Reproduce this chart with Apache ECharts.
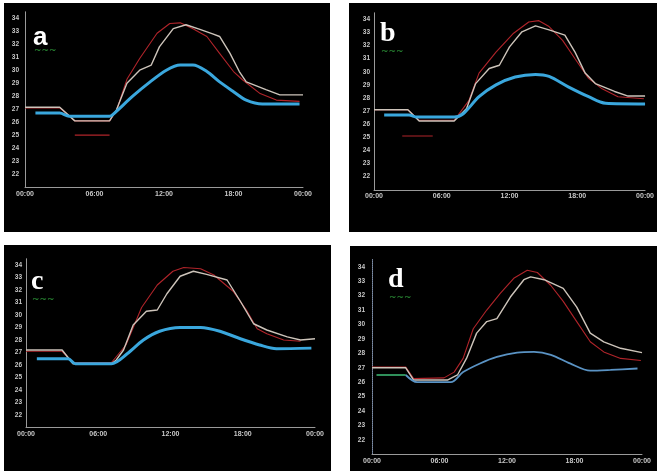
<!DOCTYPE html>
<html><head><meta charset="utf-8">
<script src="https://cdn.jsdelivr.net/npm/echarts@6/dist/echarts.min.js"></script>
<style>html,body{margin:0;padding:0;background:#fff}#c{width:657px;height:471px}</style>
</head><body><div id="c"></div>
<script>
// Tick labels
var xTickLabels = ['00:00', '06:00', '12:00', '18:00', '00:00'];
var yTickValues = [22, 23, 24, 25, 26, 27, 28, 29, 30, 31, 32, 33, 34];
var panelLetters = ['a', 'b', 'c', 'd'];

// Panel a  [hour, temperature]; '-' marks a break in the line
var aRed = [[0,27.1],[3,27.1],[4.3,26.1],[7.3,26.1],[7.9,26.9],[8.8,29.3],[9.9,30.9],[11.4,32.85],[12.5,33.6],[13.4,33.65],[14.5,33.2],[15.7,32.6],[16.8,31.3],[18,29.9],[18.8,29.25],[20.3,28.2],[21.7,27.7],[23.7,27.6],[23.7,'-'],[4.3,25.0],[7.3,25.0]];
var aWhite = [[0,27.15],[3,27.15],[4.3,26.1],[7.3,26.1],[7.9,26.95],[8.8,29.0],[9.9,30.0],[10.9,30.4],[11.6,31.8],[12.8,33.2],[13.9,33.5],[15.1,33.15],[16.2,32.8],[16.8,32.6],[17.7,31.3],[18.5,29.9],[19.1,29.1],[20.8,28.5],[22,28.1],[24,28.1]];
var aBlue = [[0.9,26.7],[3,26.7],[3.8,26.45],[7.3,26.45],[7.6,26.6],[9.3,28.0],[10.8,29.1],[12.2,30.0],[13.4,30.4],[14.5,30.4],[15.7,29.9],[16.8,29.1],[18,28.35],[19.1,27.7],[20.5,27.4],[23.7,27.4]];

// Panel b
var bRed = [[0,27.1],[3,27.1],[4,26.3],[7.1,26.3],[8.4,27.8],[9.3,29.9],[10.8,31.5],[12.3,32.9],[13.7,33.8],[14.6,33.9],[15.5,33.45],[16.7,32.4],[17.8,31.0],[19,29.5],[20.2,28.7],[21.6,28.1],[23.9,27.95],[23.9,'-'],[2.5,25.1],[5.2,25.1]];
var bWhite = [[0,27.1],[3,27.1],[4,26.25],[7.1,26.25],[8.2,27.2],[9,29.1],[10.2,30.25],[11.1,30.5],[12,31.9],[13.1,33.05],[14.3,33.5],[15.5,33.2],[16.9,32.8],[17.8,31.5],[18.7,29.9],[19.6,29.1],[21.3,28.5],[22.5,28.15],[24,28.15]];
var bBlue = [[0.9,26.7],[3.1,26.7],[3.8,26.55],[7.1,26.55],[7.9,26.8],[9.3,28.1],[10.8,29.0],[12.5,29.6],[14.3,29.8],[15.5,29.65],[17.2,28.85],[19,28.1],[20.5,27.6],[24,27.55]];

// Panel c
var cRed = [[0,27.1],[3,27.1],[3.9,26.2],[7.1,26.2],[8.3,27.6],[9.6,30.6],[10.9,32.4],[12.2,33.5],[13.1,33.8],[14.5,33.7],[15.6,33.2],[17.2,31.9],[18.3,30.4],[19.2,28.9],[20,28.5],[21.4,28.0],[22.8,27.9]];
var cWhite = [[0,27.2],[3,27.2],[3.9,26.1],[7.1,26.1],[7.5,26.4],[8.1,27.2],[8.9,29.2],[10,30.3],[10.9,30.4],[11.7,31.7],[12.8,33.1],[13.9,33.5],[15,33.25],[16.7,32.8],[17.8,31.1],[18.9,29.3],[20,28.8],[21.7,28.25],[22.8,28.0],[24,28.1]];
var cBlue = [[0.9,26.5],[3.5,26.5],[4.1,26.1],[7.1,26.1],[8.4,26.9],[9.75,28.0],[11.1,28.7],[12.8,29.0],[14.5,29.0],[16.1,28.7],[17.8,28.1],[19.4,27.6],[20.8,27.3],[23.7,27.35]];

// Panel d
var dRed = [[0,27.05],[3,27.05],[3.7,26.25],[6.4,26.3],[7.3,26.7],[8.1,27.65],[9,29.7],[10.2,31.0],[11.4,32.15],[12.6,33.2],[13.8,33.75],[14.7,33.6],[15.9,32.7],[17,31.6],[18.2,30.2],[19.4,28.8],[20.6,28.1],[22.1,27.65],[23.9,27.5]];
var dWhite = [[0,27.0],[3,27.0],[3.7,26.15],[6.7,26.15],[7.6,26.5],[8.4,27.65],[9.3,29.4],[10.2,30.2],[11.1,30.4],[12.3,31.9],[13.5,33.1],[14.1,33.3],[15.3,33.1],[17,32.5],[18.2,31.2],[19.4,29.4],[20.6,28.8],[22.1,28.35],[24,28.05]];
var dGreen = [[0.4,26.5],[3,26.5]];
var dBlue = [[3,26.5],[4,26.0],[7,26.0],[8.1,26.7],[9.6,27.3],[11.1,27.75],[12.9,28.05],[14.4,28.1],[15.9,27.9],[17.6,27.3],[19.4,26.8],[21.2,26.85],[23.6,26.95]];

var panels = [
  {rect:[4,3,326,229], grid:{left:25,top:11.8,width:278,height:175.3}, yOff:2, dotted:false,
   red:aRed, white:aWhite, blue:aBlue, blueW:3, blueC:'#3aa7dd', letter:[33,25], serif:false},
  {rect:[349,3,308,229], grid:{left:374,top:12.8,width:274,height:177}, yOff:0, dotted:false,
   red:bRed, white:bWhite, blue:bBlue, blueW:3, blueC:'#3aa7dd', letter:[380,20], serif:true},
  {rect:[4,245,327,226], grid:{left:26,top:258.75,width:289,height:168.75}, yOff:0, dotted:false,
   red:cRed, white:cWhite, blue:cBlue, blueW:3, blueC:'#3aa7dd', letter:[31,268], serif:true},
  {rect:[350,246,307,225], grid:{left:372,top:259.5,width:270,height:194.9}, yOff:3, dotted:true,
   red:dRed, white:dWhite, blue:dBlue, blueW:1.8, blueC:'#5a93c4', letter:[388,266], serif:true}
];

var grids = [], xAxes = [], yAxes = [], series = [], graphics = [];
panels.forEach(function (p, i) {
  graphics.push({type:'rect', z:-10, shape:{x:p.rect[0], y:p.rect[1], width:p.rect[2], height:p.rect[3]}, style:{fill:'#000'}});
  graphics.push({type:'text', z:100, x:p.letter[0], y:p.letter[1],
    style:{text:panelLetters[i], fill:'#fff', font:(p.serif ? 'bold 28px "Liberation Serif"' : 'bold 26px "Liberation Sans"')}});
  graphics.push({type:'text', z:100, x:p.letter[0] + 1, y:p.letter[1] + (p.serif ? 27 : 21),
    style:{text:'~~~', fill:'#2e9a3a', font:'9px "DejaVu Sans"'}});
  grids.push(p.grid);
  xAxes.push({type:'value', gridIndex:i, min:0, max:24, interval:6,
    axisLine:{lineStyle:{color:'#9a9a9a', width:1}}, axisTick:{show:false}, splitLine:{show:false},
    axisLabel:{color:'#c8c8c8', fontSize:7, fontWeight:'bold', fontFamily:'Liberation Sans', margin:3,
      formatter:function (v) { return xTickLabels[Math.round(v / 6)] || ''; }}});
  yAxes.push({type:'value', gridIndex:i, min:21, max:34.5, interval:1, offset:p.yOff,
    axisLine:{show:true, lineStyle:{color:p.dotted ? '#7f8fa8' : '#9a9a9a', width:1, type:p.dotted ? 'dotted' : 'solid'}},
    axisTick:{show:false}, splitLine:{show:false},
    axisLabel:{color:'#c8c8c8', fontSize:6.5, fontWeight:'bold', fontFamily:'Liberation Sans', margin:4,
      formatter:function (v) { return yTickValues.indexOf(v) >= 0 ? String(v) : ''; }}});
  var base = {type:'line', xAxisIndex:i, yAxisIndex:i, symbol:'none', animation:false, connectNulls:false};
  series.push(Object.assign({}, base, {data:p.red, lineStyle:{color:'#b0242a', width:1.1}, z:2}));
  series.push(Object.assign({}, base, {data:p.white, lineStyle:{color:'#cdc4ba', width:1.4}, z:3}));
  if (i === 3) series.push(Object.assign({}, base, {data:dGreen, lineStyle:{color:'#2f8f5a', width:1.8}, z:4}));
  series.push(Object.assign({}, base, {data:p.blue, smooth:0.3, lineStyle:{color:p.blueC, width:p.blueW}, z:4}));
});

var chart = echarts.init(document.getElementById('c'), null, {renderer:'canvas'});
chart.setOption({
  backgroundColor:'#fff', animation:false,
  grid:grids, xAxis:xAxes, yAxis:yAxes, series:series, graphic:graphics
});
</script></body></html>
